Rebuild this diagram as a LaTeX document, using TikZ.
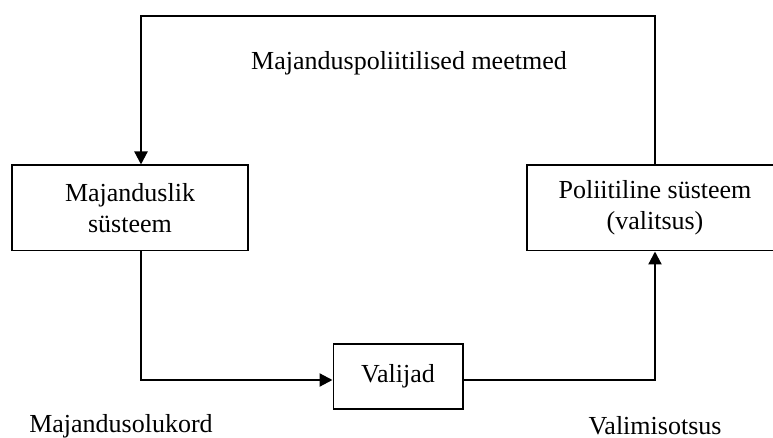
\documentclass[tikz,border=0pt]{standalone}
\usepackage{fontspec}
\setmainfont{Liberation Serif}
\usetikzlibrary{arrows.meta}

\begin{document}
\begin{tikzpicture}[>={Triangle[length=6.5pt,width=6.5pt]},x=0.5pt,y=-0.5pt,
    font=\fontsize{13}{15.5}\selectfont,
    box/.style={draw,line width=0.9pt,align=center,inner sep=0pt},
    flow/.style={->,line width=1.1pt}]
        \useasboundingbox (0,0) rectangle (773,438);

        \node[box,minimum width=117.75pt,minimum height=42.6pt] (econ) at (130,208){Majanduslik\\süsteem};
        \node[box,minimum width=128.3pt,minimum height=42.6pt] (politics) at (655,208){Poliitiline süsteem\\(valitsus)};
        \node[box,minimum width=64.6pt,minimum height=32.2pt] (voters) at (398,376.5){Valijad};

        \coordinate (topleft) at (141,16);
        \draw[flow] (politics.north) |- (topleft) -- (topleft |- econ.north);   % tagasiside
        \draw[flow] (topleft |- econ.south) |- ([yshift=-1.75pt]voters.west);
        \draw[flow] ([yshift=-1.75pt]voters.east) -| (politics.south);

        \node (measures) at (409,63){Majanduspoliitilised meetmed};
        \node (situation) at (121,426){Majandusolukord};
        \node (decision) at (655,426){Valimisotsus};
\end{tikzpicture}
\end{document}
